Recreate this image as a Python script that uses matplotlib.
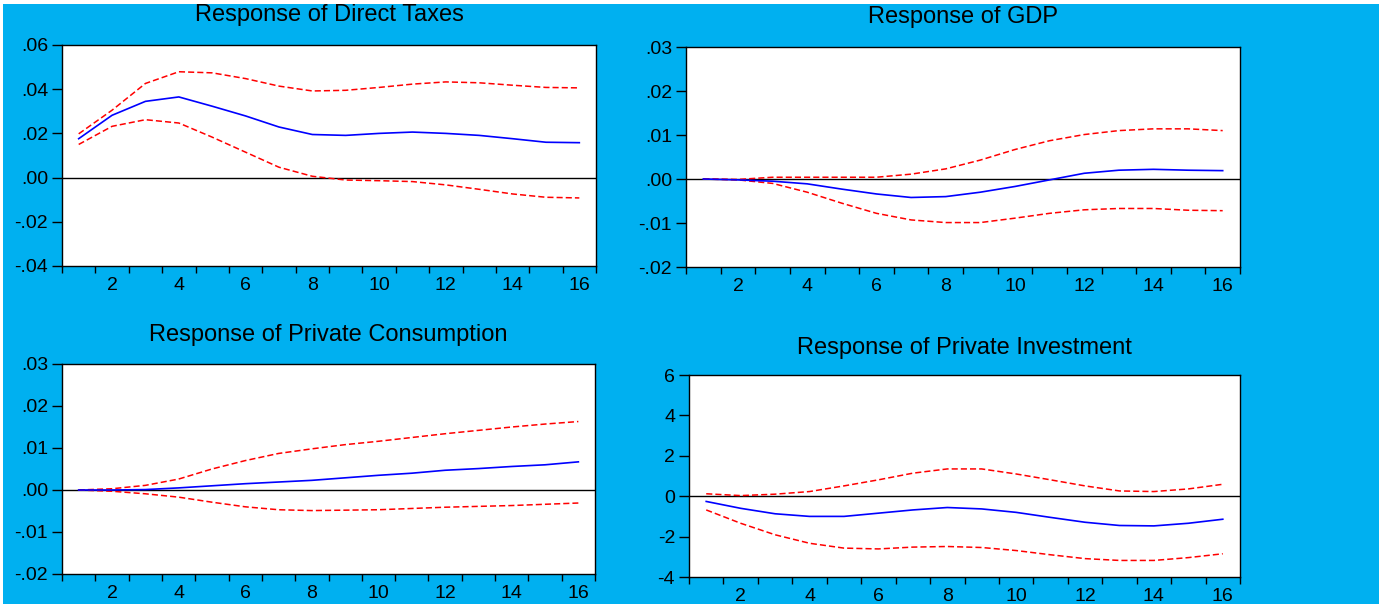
import numpy as np
import matplotlib.pyplot as plt
from matplotlib.patches import Rectangle
from matplotlib.ticker import FixedLocator, FixedFormatter

# impulse response horizon
periods = np.arange(1, 17)

# Response of Direct Taxes
tax_resp = [0.0176, 0.0282, 0.0345, 0.0365, 0.0323, 0.0279, 0.0229, 0.0195,
            0.0191, 0.0200, 0.0206, 0.0200, 0.0191, 0.0176, 0.0160, 0.0158]
tax_hi = [0.0198, 0.0305, 0.0426, 0.0479, 0.0474, 0.0448, 0.0414, 0.0392,
          0.0395, 0.0408, 0.0423, 0.0433, 0.0429, 0.0418, 0.0408, 0.0406]
tax_lo = [0.0150, 0.0232, 0.0262, 0.0247, 0.0183, 0.0115, 0.0047, 0.0006,
          -0.0011, -0.0014, -0.0018, -0.0033, -0.0053, -0.0074, -0.0089, -0.0092]

# Response of GDP
gdp_resp = [0.0, -0.0002, -0.0005, -0.0011, -0.0023, -0.0034, -0.0042, -0.0040,
            -0.0030, -0.0017, -0.0002, 0.0013, 0.0020, 0.0022, 0.0020, 0.0019]
gdp_hi = [0.0, -0.0001, 0.0004, 0.0004, 0.0004, 0.0004, 0.0011, 0.0023,
          0.0043, 0.0067, 0.0087, 0.0101, 0.0110, 0.0114, 0.0114, 0.0110]
gdp_lo = [0.0, -0.0002, -0.0010, -0.0030, -0.0055, -0.0078, -0.0093, -0.0099,
          -0.0099, -0.0089, -0.0078, -0.0070, -0.0067, -0.0067, -0.0071, -0.0072]

# Response of Private Consumption
cons_resp = [0.0, 0.0, 0.0001, 0.0005, 0.0010, 0.0015, 0.0019, 0.0023,
             0.0029, 0.0035, 0.0040, 0.0047, 0.0051, 0.0056, 0.0060, 0.0067]
cons_hi = [0.0, 0.0003, 0.0011, 0.0026, 0.0050, 0.0070, 0.0087, 0.0098,
           0.0108, 0.0116, 0.0125, 0.0134, 0.0142, 0.0150, 0.0157, 0.0163]
cons_lo = [0.0, -0.0003, -0.0009, -0.0017, -0.0029, -0.0040, -0.0047, -0.0049,
           -0.0048, -0.0047, -0.0044, -0.0041, -0.0039, -0.0037, -0.0034, -0.0031]

# Response of Private Investment
inv_resp = [-0.26, -0.60, -0.87, -1.00, -1.00, -0.84, -0.68, -0.56,
            -0.63, -0.80, -1.05, -1.29, -1.45, -1.47, -1.34, -1.14]
inv_hi = [0.12, 0.03, 0.10, 0.23, 0.51, 0.81, 1.14, 1.35,
          1.35, 1.10, 0.81, 0.51, 0.26, 0.23, 0.36, 0.59]
inv_lo = [-0.68, -1.34, -1.91, -2.33, -2.57, -2.61, -2.52, -2.49,
          -2.54, -2.69, -2.90, -3.09, -3.18, -3.18, -3.04, -2.85]

titles = ["Response of Direct Taxes", "Response of GDP",
          "Response of Private Consumption", "Response of Private Investment"]
y_ticks = [[-0.04, -0.02, 0.0, 0.02, 0.04, 0.06],
           [-0.02, -0.01, 0.0, 0.01, 0.02, 0.03],
           [-0.02, -0.01, 0.0, 0.01, 0.02, 0.03],
           [-4, -2, 0, 2, 4, 6]]
y_labels = [["-.04", "-.02", ".00", ".02", ".04", ".06"],
            ["-.02", "-.01", ".00", ".01", ".02", ".03"],
            ["-.02", "-.01", ".00", ".01", ".02", ".03"],
            ["-4", "-2", "0", "2", "4", "6"]]
x_ticks = [2, 4, 6, 8, 10, 12, 14, 16]
x_labels = [str(t) for t in x_ticks]

series = [(tax_resp, tax_hi, tax_lo), (gdp_resp, gdp_hi, gdp_lo),
          (cons_resp, cons_hi, cons_lo), (inv_resp, inv_hi, inv_lo)]

plt.rcParams['font.family'] = ['Liberation Sans', 'DejaVu Sans']

W, H = 1379, 604
fig = plt.figure(figsize=(W / 100, H / 100), dpi=100, facecolor='#00B0F0')
# thin white margins along the top and left edges
fig.patches.append(Rectangle((0, 1 - 4 / H), 1, 4 / H, transform=fig.transFigure,
                             facecolor='white', edgecolor='none'))
fig.patches.append(Rectangle((0, 0), 3 / W, 1, transform=fig.transFigure,
                             facecolor='white', edgecolor='none'))

# axes boxes in pixels: left, right, top, bottom
boxes = [(62, 596, 45, 266), (686, 1240, 47, 267),
         (62, 595, 364, 574), (689, 1240, 375, 577)]
title_y = [15, 17, 335, 348]

for i, (l, r, t, b) in enumerate(boxes):
    ax = fig.add_axes([l / W, 1 - b / H, (r - l) / W, (b - t) / H])
    ax.set_facecolor('white')
    resp, hi, lo = series[i]
    ax.axhline(0, color='black', lw=1.0, zorder=1)
    ax.plot(periods, hi, color='#FF0000', lw=1.1, ls=(0, (4, 2)), zorder=2)
    ax.plot(periods, lo, color='#FF0000', lw=1.1, ls=(0, (4, 2)), zorder=2)
    ax.plot(periods, resp, color='#0000FF', lw=1.2, zorder=3)

    ax.set_xlim(0.5, 16.5)
    yt = y_ticks[i]
    ax.set_ylim(yt[0], yt[-1])

    ax.xaxis.set_major_locator(FixedLocator(x_ticks))
    ax.xaxis.set_major_formatter(FixedFormatter(x_labels))
    ax.xaxis.set_minor_locator(FixedLocator(np.arange(0.5, 17, 1.0)))
    ax.tick_params(axis='x', which='major', length=0, pad=8, labelsize=14)
    ax.tick_params(axis='x', which='minor', length=5, width=1, direction='out')
    ax.set_yticks(yt)
    ax.set_yticklabels(y_labels[i])
    ax.tick_params(axis='y', which='major', length=7, width=1, direction='out',
                   pad=3, labelsize=14)
    for s in ax.spines.values():
        s.set_color('black')
        s.set_linewidth(1.0)

    fig.text((l + r) / 2 / W, 1 - title_y[i] / H, titles[i],
             ha='center', va='center', fontsize=17, color='black')

fig.savefig('out.png', dpi=100, facecolor=fig.get_facecolor())
